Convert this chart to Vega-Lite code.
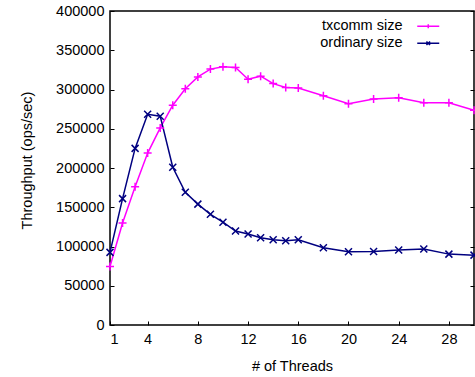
{
  "$schema": "https://vega.github.io/schema/vega-lite/v6.json",
  "autosize": {"type": "none"},
  "padding": {"left": 110, "top": 11, "right": 1, "bottom": 52},
  "width": 364,
  "height": 314,
  "background": "white",
  "config": {
    "font": "Liberation Sans",
    "view": {"stroke": "#000000", "strokeWidth": 1.5},
    "axis": {"labelFont": "Liberation Sans", "titleFont": "Liberation Sans", "labelFontSize": 14.5, "titleFontSize": 14.5, "labelColor": "#000", "titleColor": "#000", "titleFontWeight": "normal", "grid": false, "domain": false, "tickColor": "#000", "tickWidth": 1}
  },
  "data": {"values": [
    {"threads": 1, "series": "txcomm size", "tput": 74500},
    {"threads": 2, "series": "txcomm size", "tput": 130000},
    {"threads": 3, "series": "txcomm size", "tput": 176000},
    {"threads": 4, "series": "txcomm size", "tput": 219000},
    {"threads": 5, "series": "txcomm size", "tput": 251000},
    {"threads": 6, "series": "txcomm size", "tput": 280000},
    {"threads": 7, "series": "txcomm size", "tput": 301000},
    {"threads": 8, "series": "txcomm size", "tput": 316000},
    {"threads": 9, "series": "txcomm size", "tput": 326000},
    {"threads": 10, "series": "txcomm size", "tput": 329000},
    {"threads": 11, "series": "txcomm size", "tput": 328000},
    {"threads": 12, "series": "txcomm size", "tput": 313000},
    {"threads": 13, "series": "txcomm size", "tput": 317000},
    {"threads": 14, "series": "txcomm size", "tput": 307500},
    {"threads": 15, "series": "txcomm size", "tput": 302500},
    {"threads": 16, "series": "txcomm size", "tput": 302000},
    {"threads": 18, "series": "txcomm size", "tput": 292000},
    {"threads": 20, "series": "txcomm size", "tput": 282000},
    {"threads": 22, "series": "txcomm size", "tput": 288000},
    {"threads": 24, "series": "txcomm size", "tput": 289500},
    {"threads": 26, "series": "txcomm size", "tput": 283000},
    {"threads": 28, "series": "txcomm size", "tput": 283000},
    {"threads": 30, "series": "txcomm size", "tput": 273500},
    {"threads": 1, "series": "ordinary size", "tput": 92500},
    {"threads": 2, "series": "ordinary size", "tput": 161000},
    {"threads": 3, "series": "ordinary size", "tput": 225000},
    {"threads": 4, "series": "ordinary size", "tput": 268500},
    {"threads": 5, "series": "ordinary size", "tput": 266000},
    {"threads": 6, "series": "ordinary size", "tput": 201000},
    {"threads": 7, "series": "ordinary size", "tput": 169000},
    {"threads": 8, "series": "ordinary size", "tput": 154000},
    {"threads": 9, "series": "ordinary size", "tput": 141000},
    {"threads": 10, "series": "ordinary size", "tput": 131000},
    {"threads": 11, "series": "ordinary size", "tput": 119700},
    {"threads": 12, "series": "ordinary size", "tput": 116000},
    {"threads": 13, "series": "ordinary size", "tput": 111200},
    {"threads": 14, "series": "ordinary size", "tput": 108600},
    {"threads": 15, "series": "ordinary size", "tput": 107400},
    {"threads": 16, "series": "ordinary size", "tput": 108600},
    {"threads": 18, "series": "ordinary size", "tput": 98400},
    {"threads": 20, "series": "ordinary size", "tput": 93300},
    {"threads": 22, "series": "ordinary size", "tput": 93700},
    {"threads": 24, "series": "ordinary size", "tput": 95500},
    {"threads": 26, "series": "ordinary size", "tput": 96700},
    {"threads": 28, "series": "ordinary size", "tput": 90300},
    {"threads": 30, "series": "ordinary size", "tput": 89000}
  ]},
  "encoding": {
    "x": {"field": "threads", "type": "quantitative", "scale": {"domain": [1, 30], "nice": false, "zero": false},
      "axis": {"title": "# of Threads", "values": [1, 4, 8, 12, 16, 20, 24, 28], "tickSize": -4, "labelPadding": 11, "titleY": 34}},
    "color": {"field": "series", "type": "nominal",
      "scale": {"domain": ["txcomm size", "ordinary size"], "range": ["#ff00ff", "#000080"]},
      "legend": {"title": null, "orient": "none", "legendX": 311, "legendY": 8, "labelFont": "Liberation Sans", "labelFontSize": 14.5, "labelColor": "#000", "labelAlign": "right", "labelOffset": -33, "rowPadding": 2, "symbolStrokeWidth": 1.5, "padding": 0,
        "encode": {"symbols": {"update": {
          "shape": {"signal": "datum.value === 'txcomm size' ? 'M-5.5,0L5.5,0M0,-1L0,1' : 'M-5.5,0L5.5,0M-0.9,-0.9L0.9,0.9M-0.9,0.9L0.9,-0.9'"},
          "size": {"value": 16}, "fill": {"value": "transparent"}, "strokeWidth": {"value": 1.5}}}}}
    }
  },
  "layer": [
    {"encoding": {"y": {"field": "tput", "type": "quantitative", "scale": {"domain": [0, 400000], "nice": false},
        "axis": {"title": "Throughput (ops/sec)", "values": [0, 50000, 100000, 150000, 200000, 250000, 300000, 350000, 400000], "format": "d", "tickSize": -4, "labelPadding": 10, "titleX": -76, "titleY": 149}}},
     "layer": [
      {"mark": {"type": "line", "strokeWidth": 1.5}},
      {"transform": [{"filter": "datum.series === 'txcomm size'"}],
        "mark": {"type": "point", "filled": false, "strokeWidth": 1.5, "opacity": 1, "size": 64, "shape": "M-1,0L1,0M0,-1L0,1"}},
      {"transform": [{"filter": "datum.series === 'ordinary size'"}],
        "mark": {"type": "point", "filled": false, "strokeWidth": 1.5, "opacity": 1, "size": 49, "shape": "M-1,-1L1,1M-1,1L1,-1"}}
     ]},
    {"mark": {"type": "line", "opacity": 0},
      "encoding": {"y": {"field": "tput", "type": "quantitative", "scale": {"domain": [0, 400000], "nice": false},
        "axis": {"orient": "right", "labels": false, "title": null, "values": [0, 50000, 100000, 150000, 200000, 250000, 300000, 350000, 400000], "tickSize": -4}},
        "color": {"value": "transparent"}}}
  ],
  "resolve": {"scale": {"y": "independent"}}
}
